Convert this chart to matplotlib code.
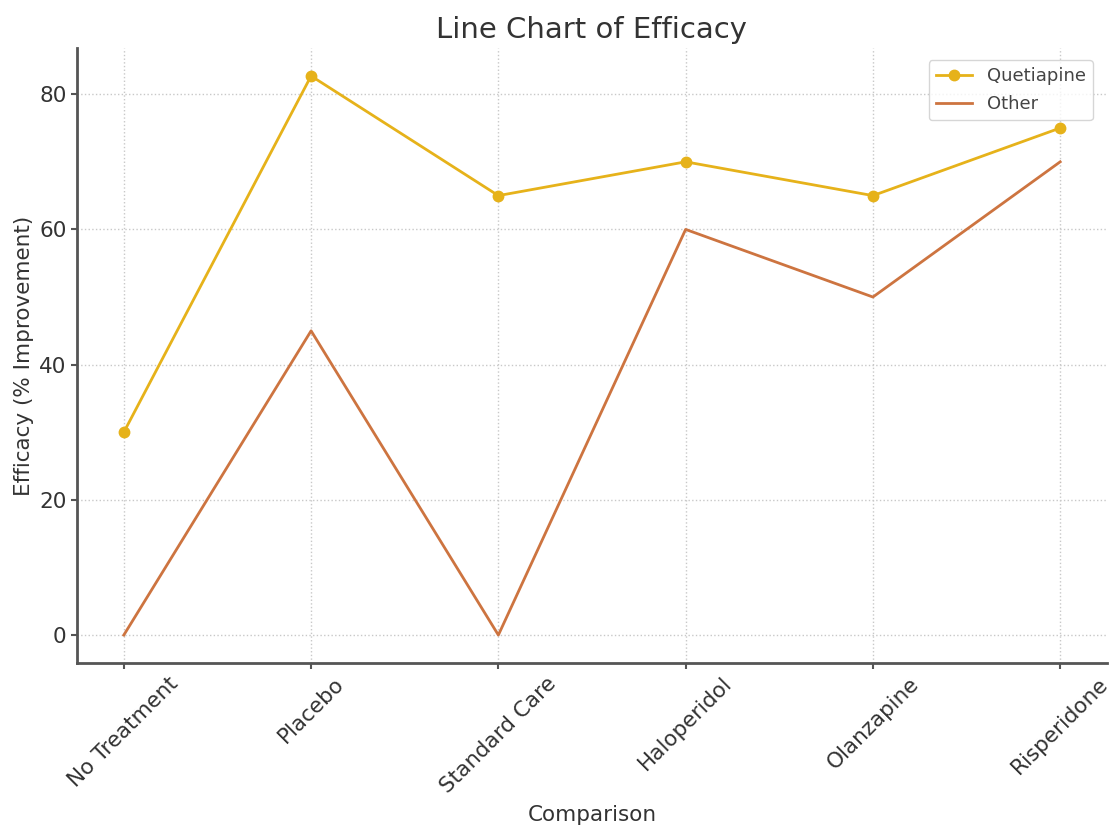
import matplotlib
matplotlib.use("Agg")
import matplotlib.pyplot as plt

categories = ["No Treatment", "Placebo", "Standard Care", "Haloperidol", "Olanzapine", "Risperidone"]
quetiapine = [30, 82.7, 65, 70, 65, 75]
other = [0, 45, 0, 60, 50, 70]

plt.rcParams['font.family'] = ['DejaVu Sans']
text_color = "#333333"

fig = plt.figure(figsize=(11.11, 8.27), dpi=100)
ax = fig.add_axes([77 / 1111, 1 - 663 / 827, (1107 - 77) / 1111, (663 - 48) / 827])

x = list(range(len(categories)))
ax.plot(x, quetiapine, color="#E6B21A", linewidth=2, marker="o", markersize=7.5, label="Quetiapine")
ax.plot(x, other, color="#CD7440", linewidth=2, label="Other")

ax.set_xticks(x)
ax.set_xticklabels(categories, rotation=45, ha="center", fontsize=15.5, color=text_color)
ax.set_yticks([0, 20, 40, 60, 80])
ax.tick_params(axis="y", labelsize=15.5, labelcolor=text_color, color="#555555", width=1.5, length=4)
ax.tick_params(axis="x", color="#555555", width=1.5, length=4)

ax.grid(True, linestyle=":", color="#c8c8c8", linewidth=1)
ax.set_axisbelow(True)
for s in ["top", "right"]:
    ax.spines[s].set_visible(False)
for s in ["left", "bottom"]:
    ax.spines[s].set_color("#555555")
    ax.spines[s].set_linewidth(2)

ax.set_title("Line Chart of Efficacy", fontsize=21, color=text_color, pad=7)
ax.set_xlabel("Comparison", fontsize=15.5, color=text_color, labelpad=6)
ax.set_ylabel("Efficacy (% Improvement)", fontsize=15.5, color=text_color)

leg = ax.legend(loc="upper right", fontsize=13, frameon=True, labelspacing=0.55,
                bbox_to_anchor=(0.995, 0.995))
for t in leg.get_texts():
    t.set_color("#444444")

fig.savefig("out.png", dpi=100)
